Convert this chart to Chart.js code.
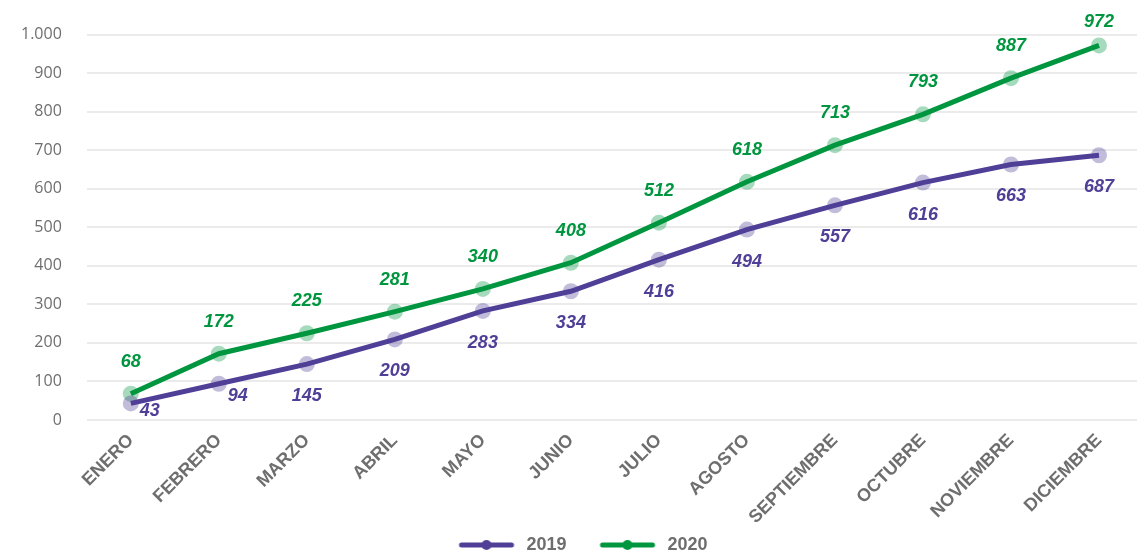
<!DOCTYPE html>
<html>
<head>
<meta charset="utf-8">
<script src="https://cdn.jsdelivr.net/npm/chart.js@4"></script>
<style>
  html, body { margin: 0; padding: 0; background: #fff; overflow: hidden; }
  #wrap { width: 1143px; height: 552px; }
</style>
</head>
<body>
<div id="wrap"><canvas id="chart"></canvas></div>
<script>
// datos del gráfico
const meses = ['ENERO', 'FEBRERO', 'MARZO', 'ABRIL', 'MAYO', 'JUNIO', 'JULIO', 'AGOSTO', 'SEPTIEMBRE', 'OCTUBRE', 'NOVIEMBRE', 'DICIEMBRE'];
const valores2019 = [43, 94, 145, 209, 283, 334, 416, 494, 557, 616, 663, 687];
const valores2020 = [68, 172, 225, 281, 340, 408, 512, 618, 713, 793, 887, 972];

const morado = '#4f3f97';
const verde = '#00963f';

// icono de leyenda: linea con punto (con hueco a la izquierda para separar items)
function iconoLeyenda(color) {
  const c = document.createElement('canvas');
  c.width = 86; c.height = 12;
  const g = c.getContext('2d');
  g.strokeStyle = color;
  g.lineWidth = 5;
  g.lineCap = 'round';
  g.beginPath(); g.moveTo(30, 6); g.lineTo(80, 6); g.stroke();
  g.fillStyle = color;
  g.beginPath(); g.arc(55, 6, 5, 0, Math.PI * 2); g.fill();
  return c;
}

// etiquetas de valores sobre/bajo los puntos
const etiquetas = {
  id: 'etiquetas',
  afterDatasetsDraw(chart) {
    const ctx = chart.ctx;
    ctx.save();
    ctx.font = 'italic bold 18px "Liberation Sans", Arial, sans-serif';
    ctx.textAlign = 'center';
    ctx.textBaseline = 'middle';
    chart.data.datasets.forEach((ds, i) => {
      const meta = chart.getDatasetMeta(i);
      meta.data.forEach((p, j) => {
        let x = p.x, y = p.y;
        if (i === 1) {
          y = Math.max(y - 32, 22);
        } else {
          if (j < 2) { x += 19; y += 8 + j * 4; } else { y += 32; }
        }
        ctx.fillStyle = ds.borderColor;
        ctx.fillText(ds.data[j], x, y);
      });
    });
    ctx.restore();
  }
};

new Chart(document.getElementById('chart'), {
  type: 'line',
  data: {
    labels: meses,
    datasets: [{
      label: '2019',
      data: valores2019,
      borderColor: morado,
      backgroundColor: 'rgba(79,63,151,0.35)',
      borderWidth: 5,
      pointRadius: 8,
      pointBorderWidth: 0,
      pointBackgroundColor: 'rgba(79,63,151,0.35)',
      tension: 0,
      clip: false
    }, {
      label: '2020',
      data: valores2020,
      borderColor: verde,
      backgroundColor: 'rgba(0,150,63,0.35)',
      borderWidth: 5,
      pointRadius: 8,
      pointBorderWidth: 0,
      pointBackgroundColor: 'rgba(0,150,63,0.35)',
      tension: 0,
      clip: false
    }]
  },
  options: {
    responsive: true,
    maintainAspectRatio: false,
    animation: false,
    layout: { autoPadding: false, padding: { top: 34, left: -4, right: 0, bottom: -12 } },
    plugins: {
      tooltip: { enabled: false },
      legend: {
        position: 'bottom',
        labels: {
          usePointStyle: true,
          pointStyleWidth: 86,
          boxHeight: 12,
          padding: 6,
          color: '#6e6e6e',
          font: { family: '"Liberation Sans", Arial, sans-serif', size: 18, weight: 'bold' },
          generateLabels(chart) {
            return chart.data.datasets.map((ds, i) => ({
              text: ds.label,
              pointStyle: iconoLeyenda(ds.borderColor),
              fillStyle: ds.borderColor,
              strokeStyle: ds.borderColor,
              lineWidth: 0,
              fontColor: '#6e6e6e',
              datasetIndex: i
            }));
          }
        }
      }
    },
    scales: {
      x: {
        offset: true,
        grid: { display: false },
        border: { display: false },
        afterFit(scale) { scale.paddingLeft = 0; scale.paddingRight = 0; },
        ticks: {
          minRotation: 45,
          maxRotation: 45,
          color: '#6e6e6e',
          padding: 2,
          font: { family: '"Liberation Sans", Arial, sans-serif', size: 18, weight: 'bold' }
        }
      },
      y: {
        min: 0,
        max: 1000,
        border: { display: false },
        grid: { color: '#ebebeb', lineWidth: 2, drawTicks: false },
        ticks: {
          stepSize: 100,
          padding: 25,
          color: '#6e6e6e',
          font: { family: '"Open Sans", sans-serif', size: 16 },
          callback: v => String(v).replace(/^(\d)(\d{3})$/, '$1.$2')
        }
      }
    }
  },
  plugins: [etiquetas]
});
</script>
</body>
</html>
